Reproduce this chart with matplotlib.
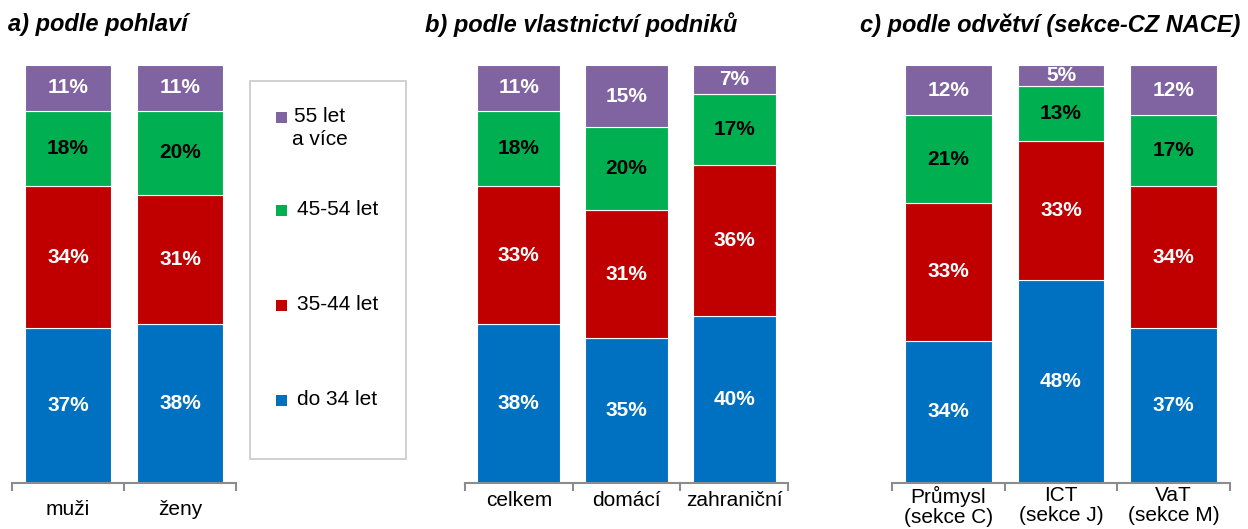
import numpy as np
import matplotlib
matplotlib.use("Agg")
import matplotlib.pyplot as plt
from matplotlib.patches import Rectangle

plt.rcParams["font.family"] = ["Liberation Sans", "DejaVu Sans"]

# age groups, bottom to top
groups = ["do 34 let", "35-44 let", "45-54 let", "55 let\na více"]
colors = ["#0070C0", "#C00000", "#00B050", "#8064A2"]
txt_col = ["white", "white", "black", "white"]

cats_a = ["muži", "ženy"]
vals_a = [[37, 38], [34, 31], [18, 20], [11, 11]]

cats_b = ["celkem", "domácí", "zahraniční"]
vals_b = [[38, 35, 40], [33, 31, 36], [18, 20, 17], [11, 15, 7]]

cats_c = ["Průmysl\n(sekce C)", "ICT\n(sekce J)", "VaT\n(sekce M)"]
vals_c = [[34, 48, 37], [33, 33, 34], [21, 13, 17], [12, 5, 12]]

W, H = 1248, 529
fig = plt.figure(figsize=(W / 100, H / 100), dpi=100)


def panel(rect, cats, vals, title, title_x, pad):
    ax = fig.add_axes(rect)
    v = np.array(vals, dtype=float)
    v = v / v.sum(axis=0) * 100  # bars are drawn as 100 % stacks
    x = np.arange(len(cats))
    bottom = np.zeros(len(cats))
    for i in range(len(groups)):
        ax.bar(x, v[i], 0.77, bottom=bottom, color=colors[i], edgecolor="white", lw=0.8)
        for j in range(len(cats)):
            ax.text(x[j], bottom[j] + v[i][j] / 2, f"{vals[i][j]}%", ha="center", va="center",
                    color=txt_col[i], fontsize=15, fontweight="bold")
        bottom += v[i]
    ax.set_xlim(-0.5, len(cats) - 0.5); ax.set_ylim(0, 100)
    ax.set_yticks([])
    ax.set_xticks(x); ax.set_xticklabels(cats, fontsize=15, linespacing=1.1)
    ax.tick_params(axis="x", which="major", length=0, pad=pad)
    ax.set_xticks(np.arange(len(cats) + 1) - 0.5, minor=True)
    ax.tick_params(axis="x", which="minor", length=6, width=1.5, color="#8c8c8c", direction="out")
    for s in ("top", "right", "left"):
        ax.spines[s].set_visible(False)
    ax.spines["bottom"].set_color("#8c8c8c"); ax.spines["bottom"].set_linewidth(1.5)
    fig.text(title_x / W, 1 - 25 / H, title, fontsize=17, fontweight="bold", fontstyle="italic",
             ha="left", va="center")
    return ax


yb, hh = 46 / H, 418 / H
panel([12 / W, yb, 224 / W, hh], cats_a, vals_a, "a) podle pohlaví", 8, 12)
panel([465 / W, yb, 323 / W, hh], cats_b, vals_b, "b) podle vlastnictví podniků", 425, 6)
panel([892 / W, yb, 338 / W, hh], cats_c, vals_c, "c) podle odvětví (sekce-CZ NACE)", 860, 2)

# legend box
fig.patches.append(Rectangle((250 / W, 1 - 459 / H), 156 / W, 378 / H, transform=fig.transFigure,
                             facecolor="white", edgecolor="#c8c8c8", lw=1.2))
leg_y = [400, 305, 210, 117]
for i in range(len(groups)):
    fig.patches.append(Rectangle((276 / W, 1 - (leg_y[i] + 5.5) / H), 11 / W, 11 / H,
                                 transform=fig.transFigure, facecolor=colors[i], edgecolor="none"))
    tx = 292 if "\n" in groups[i] else 297
    fig.text(tx / W, 1 - (leg_y[i] - 10) / H, groups[i], fontsize=15, ha="left", va="top",
             linespacing=1.25, multialignment="center")

fig.savefig("out.png", dpi=100)
